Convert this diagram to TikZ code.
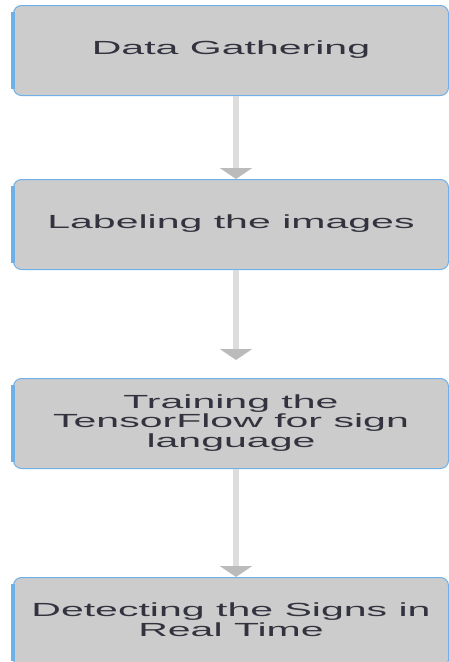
\documentclass[tikz,border=0pt]{standalone}
\usepackage{fontspec}
\setmainfont{Liberation Sans}
\usetikzlibrary{arrows.meta, positioning}
\definecolor{boxfill}{HTML}{CCCCCC}
\definecolor{boxedge}{HTML}{6FB0E8}
\definecolor{txtcol}{HTML}{33333F}
\definecolor{shaftcol}{HTML}{DDDDDD}
\definecolor{headcol}{HTML}{BBBBBB}
\newcommand{\widetxt}[1]{\scalebox{2.16}[1]{\begin{tabular}{@{}c@{}}#1\end{tabular}}}

\begin{document}
\begin{tikzpicture}[x=1pt, y=1pt,
  stepbox/.style={draw=boxedge, fill=boxfill, line width=1pt, rounded corners=8pt,
    minimum width=435pt, minimum height=90pt, inner sep=0pt, text=txtcol,
    font=\fontsize{19}{19}\selectfont},
  flow/.style={draw=shaftcol, line width=6pt,
    -{Triangle[width=32pt, length=11pt, color=headcol]}}]
  \useasboundingbox (0,0) rectangle (449,-662);
  \clip (0,0) rectangle (449,-662);
  % the four steps
  \node[stepbox] (gather) at (231,-50.5) {\widetxt{Data Gathering}};
  \node[stepbox, below=83pt of gather] (label) {\widetxt{Labeling the images}};
  \node[stepbox, below=108pt of label] (train) {\widetxt{Training the\\TensorFlow for sign\\language}};
  \node[stepbox, below=108pt of train] (detect) {\widetxt{Detecting the Signs in\\Real Time}};
  % thicker left edge
  \foreach \n in {gather, label, train, detect}
    \draw[boxedge, line width=4pt] ([yshift=-7pt]\n.north west) -- ([yshift=7pt]\n.south west);
  % connectors
  \draw[flow] ([xshift=5pt]gather.south) -- ([xshift=5pt]label.north);
  \draw[flow, shorten >=18pt] ([xshift=5pt]label.south) -- ([xshift=5pt]train.north);
  \draw[flow] ([xshift=5pt]train.south) -- ([xshift=5pt]detect.north);
\end{tikzpicture}
\end{document}
